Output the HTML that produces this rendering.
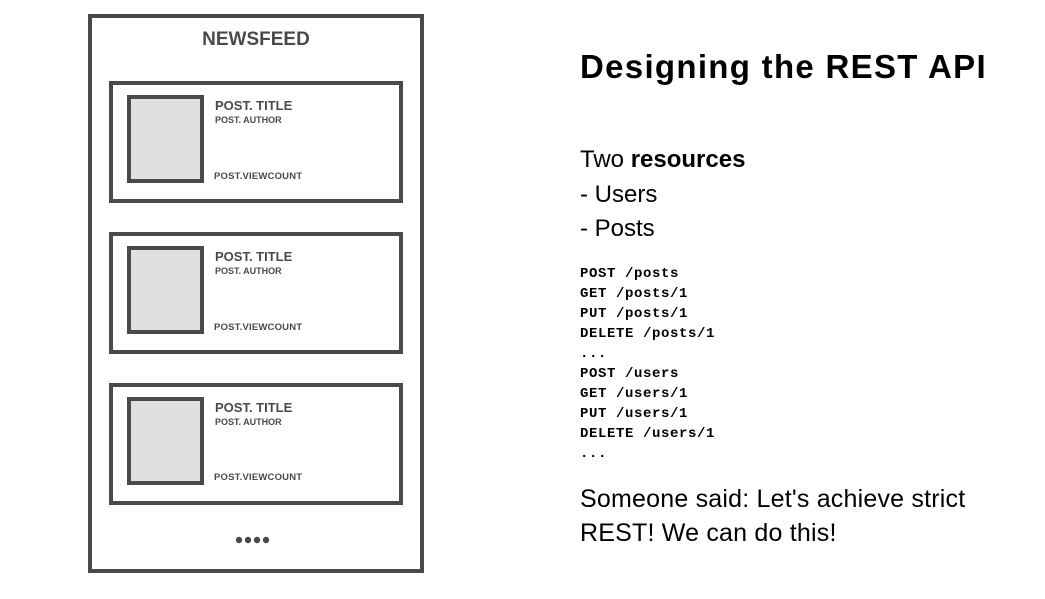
<!DOCTYPE html>
<html><head><style>
body{margin:0;width:1045px;height:599px;background:#fff;position:relative;overflow:hidden;font-family:"Liberation Sans",sans-serif}
.a{position:absolute;box-sizing:border-box}
.frame{left:88px;top:14px;width:336px;height:559px;border:4px solid #4a4a4a}
.card{left:109px;width:294px;height:122px;border:4px solid #4a4a4a}
.img{left:127px;width:77px;height:88px;border:4px solid #4a4a4a;background:#e0e0e0}
.t{position:absolute;color:#4a4a4a;font-weight:bold;white-space:nowrap}
.v{letter-spacing:0.2px;font-size:9.5px}
.r{position:absolute;left:580px;white-space:nowrap;color:#000}
.m{position:absolute;left:580px;font-family:"Liberation Mono",monospace;font-weight:bold;font-size:14px;line-height:20px;letter-spacing:0.6px}
</style></head><body>
<div class="a frame"></div>
<div class="t" style="left:0;width:512px;text-align:center;top:29px;font-size:19px">NEWSFEED</div>

<div class="a card" style="top:81px"></div>
<div class="a img" style="top:95px"></div>
<div class="t" style="left:215px;top:98px;font-size:13px">POST. TITLE</div>
<div class="t" style="left:215px;top:115px;font-size:9px">POST. AUTHOR</div>
<div class="t v" style="left:214px;top:171px">POST.VIEWCOUNT</div>

<div class="a card" style="top:232px"></div>
<div class="a img" style="top:246px"></div>
<div class="t" style="left:215px;top:249px;font-size:13px">POST. TITLE</div>
<div class="t" style="left:215px;top:266px;font-size:9px">POST. AUTHOR</div>
<div class="t v" style="left:214px;top:322px">POST.VIEWCOUNT</div>

<div class="a card" style="top:383px"></div>
<div class="a img" style="top:397px"></div>
<div class="t" style="left:215px;top:400px;font-size:13px">POST. TITLE</div>
<div class="t" style="left:215px;top:417px;font-size:9px">POST. AUTHOR</div>
<div class="t v" style="left:214px;top:472px">POST.VIEWCOUNT</div>

<svg class="a" style="left:230px;top:534px" width="50" height="12">
<circle cx="9" cy="6" r="3.2" fill="#4a4a4a"/><circle cx="18" cy="6" r="3.2" fill="#4a4a4a"/><circle cx="27" cy="6" r="3.2" fill="#4a4a4a"/><circle cx="36" cy="6" r="3.2" fill="#4a4a4a"/></svg>

<div class="r" style="top:48px;font-size:33px;font-weight:900;letter-spacing:1.3px">Designing the REST API</div>
<div class="r" style="top:146px;font-size:24px">Two <b>resources</b></div>
<div class="r" style="top:181px;font-size:24px">- Users</div>
<div class="r" style="top:215px;font-size:24px">- Posts</div>
<div class="m" style="top:264px">POST /posts<br>GET /posts/1<br>PUT /posts/1<br>DELETE /posts/1<br>...<br>POST /users<br>GET /users/1<br>PUT /users/1<br>DELETE /users/1<br>...</div>
<div class="r" style="top:482px;font-size:25px;line-height:34px;letter-spacing:0.2px">Someone said: Let's achieve strict<br>REST! We can do this!</div>
</body></html>
